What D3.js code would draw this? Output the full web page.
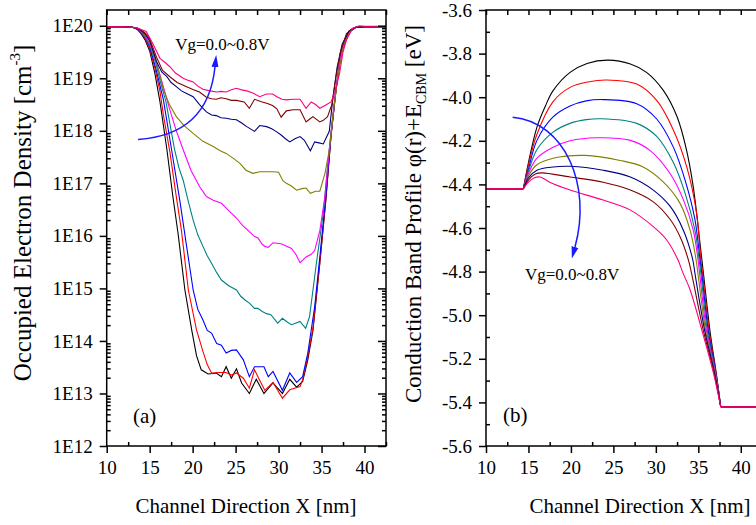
<!DOCTYPE html>
<html>
<head>
<meta charset="utf-8">
<script src="https://cdn.jsdelivr.net/npm/d3@7.9.0/dist/d3.min.js"></script>
<style>
  body { margin: 0; background: #fff; }
  svg { display: block; }
  .axis .domain { display: none; }
  .axis .tick line { stroke: #000; stroke-width: 1.5; }
</style>
</head>
<body>
<svg id="chart" width="756" height="525"></svg>
<script>
// Vg steps and their line colours (0.0V ... 0.8V)
const vgSteps = ['0.0', '0.1', '0.2', '0.3', '0.4', '0.5', '0.6', '0.7', '0.8'];
const lineColors = ['#000000', '#ff0000', '#0000ff', '#008080', '#ff00ff', '#808000', '#000080', '#800000', '#ff0080'];

// tick values
const xMajor = [10, 15, 20, 25, 30, 35, 40];
const xMinor = [12.5, 17.5, 22.5, 27.5, 32.5, 37.5, 42.5];
const densMajor = [1e12, 1e13, 1e14, 1e15, 1e16, 1e17, 1e18, 1e19, 1e20];
const bandMajor = [-5.6, -5.4, -5.2, -5.0, -4.8, -4.6, -4.4, -4.2, -4.0, -3.8, -3.6];
const bandMinor = [-5.5, -5.3, -5.1, -4.9, -4.7, -4.5, -4.3, -4.1, -3.9, -3.7];

// (a) electron density, [x nm, log10(n cm^-3)]
const dens00 = [[10,19.98],[12,19.98],[13,19.97],[13.5,19.94],[14,19.85],[14.5,19.72],[15,19.52],[15.6,19.1],[16.2,18.55],[17,17.65],[17.7,16.75],[18.3,16.05],[19.1,14.97],[19.9,14.2],[20.45,13.72],[21,13.45],[21.8,13.37],[22.4,13.38],[22.75,13.39],[23.35,13.32],[23.9,13.51],[24.5,13.29],[25.1,13.47],[25.7,13.2],[26.6,13.0],[27.4,13.27],[28.3,13.0],[29.35,13.2],[30.45,13.0],[31.3,13.27],[32.1,13.12],[32.8,13.23],[33.4,13.64],[34.0,14.2],[34.8,15.48],[35.5,16.68],[36.1,17.9],[36.7,18.8],[37.3,19.5],[38.2,19.88],[39,19.97],[40,19.98],[42.5,19.98]];
const dens01 = [[10,19.98],[12,19.98],[13,19.97],[13.5,19.94],[14,19.87],[14.5,19.75],[15,19.56],[15.6,19.2],[16.2,18.75],[16.6,18.3],[17.35,17.6],[18.05,16.8],[18.7,16.1],[19.5,14.97],[20.45,14.21],[21.2,13.8],[21.7,13.55],[22.2,13.39],[23.1,13.4],[23.9,13.4],[24.5,13.35],[25.1,13.39],[25.9,13.29],[26.6,13.1],[27.2,13.45],[27.8,13.25],[28.4,13.06],[29.35,13.21],[30.45,12.91],[31.3,13.07],[32.5,13.13],[32.8,13.26],[33.4,13.7],[34.0,14.25],[34.8,15.5],[35.5,16.7],[36.1,17.9],[36.7,18.8],[37.3,19.5],[38.2,19.88],[39,19.97],[40,19.98],[42.5,19.98]];
const dens02 = [[10,19.98],[12,19.98],[13,19.97],[13.5,19.94],[14,19.88],[14.5,19.77],[15,19.6],[15.7,19.2],[16.6,18.59],[17.55,17.64],[18.5,16.68],[19.3,15.8],[20.06,14.97],[20.6,14.6],[21.2,14.4],[21.7,14.2],[22.2,14.15],[22.8,13.95],[23.35,13.92],[23.9,13.77],[24.5,13.82],[25.1,13.83],[25.9,13.64],[26.6,13.32],[27.2,13.51],[28.3,13.51],[28.8,13.32],[29.35,13.42],[30.45,13.06],[31.3,13.39],[32.1,13.21],[32.8,13.32],[33.4,13.77],[34.2,14.65],[34.8,15.6],[35.5,16.75],[36.1,17.92],[36.7,18.82],[37.3,19.5],[38.2,19.88],[39,19.97],[40,19.98],[42.5,19.98]];
const dens03 = [[10,19.98],[12,19.98],[13,19.97],[13.5,19.95],[14,19.89],[14.5,19.78],[15,19.63],[15.7,19.3],[16.3,18.9],[16.9,18.55],[17.5,18.0],[17.9,17.64],[18.4,17.3],[18.9,17.06],[19.5,16.65],[20.06,16.3],[20.6,16.02],[21.2,15.8],[21.7,15.62],[22.2,15.48],[22.8,15.3],[23.35,15.16],[24.2,15.05],[25.1,14.97],[25.6,14.85],[26.1,14.78],[26.6,14.72],[27.2,14.62],[27.6,14.62],[28.1,14.56],[28.6,14.52],[29.1,14.5],[29.9,14.34],[30.45,14.43],[31.0,14.36],[31.5,14.31],[32.5,14.37],[33.15,14.24],[33.6,14.46],[34.4,15.48],[35.2,16.43],[35.8,17.5],[36.4,18.4],[37,19.2],[37.6,19.7],[38.4,19.92],[39,19.97],[40,19.98],[42.5,19.98]];
const dens04 = [[10,19.98],[12,19.98],[13,19.97],[13.5,19.95],[14,19.89],[14.5,19.8],[15,19.66],[15.7,19.35],[16.4,18.95],[17.35,18.4],[18.1,18.0],[18.9,17.64],[19.8,17.25],[20.8,16.94],[21.6,16.75],[22.4,16.68],[23.35,16.62],[24.2,16.48],[25.1,16.34],[25.8,16.2],[26.6,16.08],[27.1,16.0],[27.6,15.96],[28.1,15.84],[28.4,15.8],[28.8,15.78],[29.35,15.87],[30.3,15.85],[31.5,15.76],[32.0,15.65],[32.5,15.49],[33.2,15.6],[33.8,15.65],[34.2,15.72],[34.8,16.1],[35.4,16.75],[36.0,17.8],[36.6,18.7],[37.2,19.4],[37.8,19.78],[38.5,19.93],[39,19.97],[40,19.98],[42.5,19.98]];
const dens05 = [[10,19.98],[12,19.98],[13,19.97],[13.5,19.95],[14,19.9],[14.5,19.82],[15,19.7],[15.8,19.3],[16.6,18.78],[17.3,18.5],[18.1,18.27],[19,18.1],[20.06,17.95],[21.2,17.8],[22.4,17.7],[23.2,17.62],[23.9,17.57],[24.7,17.48],[25.5,17.38],[26.2,17.25],[27.0,17.19],[27.8,17.22],[28.6,17.22],[29.4,17.22],[30.0,17.21],[30.5,17.05],[30.9,17.0],[31.5,16.95],[32.1,16.87],[32.7,16.9],[33.2,16.91],[33.7,16.81],[34.3,16.85],[34.8,16.85],[35.4,17.19],[35.9,17.63],[36.4,18.4],[37,19.15],[37.6,19.65],[38.3,19.9],[39,19.97],[40,19.98],[42.5,19.98]];
const dens06 = [[10,19.98],[12,19.98],[13,19.97],[13.5,19.95],[14,19.91],[14.5,19.84],[15,19.72],[15.8,19.32],[16.4,19.12],[17.0,19.03],[17.5,18.92],[18.1,18.84],[18.7,18.76],[19.3,18.71],[20.06,18.65],[20.8,18.5],[21.6,18.36],[22.2,18.3],[22.75,18.29],[23.3,18.25],[23.9,18.24],[24.5,18.22],[25.1,18.21],[25.7,18.15],[26.3,18.08],[27.2,17.99],[27.8,18.1],[28.6,18.08],[29.2,18.04],[29.7,17.99],[30.3,17.92],[30.8,17.85],[31.3,17.79],[31.9,17.85],[32.5,17.89],[33.0,17.82],[33.7,17.62],[34.2,17.79],[34.7,17.77],[35.2,17.75],[35.9,17.99],[36.3,18.59],[36.8,19.2],[37.4,19.65],[38.2,19.9],[39,19.97],[40,19.98],[42.5,19.98]];
const dens07 = [[10,19.98],[12,19.98],[13,19.97],[13.5,19.96],[14,19.92],[14.5,19.86],[15,19.75],[15.8,19.4],[16.5,19.15],[17.35,19.03],[18.2,18.92],[19.3,18.84],[20.1,18.78],[20.8,18.74],[21.6,18.64],[22.2,18.61],[22.75,18.6],[23.3,18.63],[23.9,18.61],[24.5,18.58],[25.1,18.58],[26.0,18.55],[26.6,18.43],[27.2,18.6],[28.1,18.55],[28.7,18.52],[29.3,18.48],[29.8,18.42],[30.3,18.26],[30.9,18.38],[31.7,18.4],[32.5,18.4],[33.2,18.17],[33.6,18.22],[34.0,18.27],[34.8,18.17],[35.2,18.2],[35.7,18.27],[36.2,18.5],[36.7,19.05],[37.2,19.5],[37.9,19.85],[38.6,19.95],[39,19.97],[40,19.98],[42.5,19.98]];
const dens08 = [[10,19.98],[12,19.98],[13,19.97],[13.5,19.96],[14,19.93],[14.6,19.89],[15.3,19.68],[16.2,19.38],[16.8,19.3],[17.35,19.22],[18.0,19.1],[18.9,19.0],[19.5,18.96],[20.06,18.93],[20.6,18.85],[21.2,18.79],[22,18.76],[22.8,18.74],[23.3,18.75],[23.9,18.74],[24.5,18.78],[25.1,18.81],[25.7,18.78],[26.3,18.76],[27.0,18.72],[27.8,18.65],[28.6,18.7],[29.3,18.7],[29.8,18.65],[30.4,18.6],[30.9,18.59],[31.7,18.6],[32.5,18.6],[33.2,18.43],[33.8,18.55],[34.3,18.5],[34.8,18.43],[35.5,18.49],[36.1,18.55],[36.6,18.75],[37.1,19.1],[37.5,19.5],[37.9,19.73],[38.6,19.95],[39.4,20.0],[40,19.99],[42.5,19.99]];

// (b) conduction band, [x nm, energy eV]; flat source/drain levels on each side
const bandSource = [[10, -4.42], [14.4, -4.42]];
const bandDrain = [[37.64, -5.42], [42.5, -5.42]];
const band00 = [[14.4,-4.42],[15,-4.30],[16,-4.137],[17,-4.04],[17.9,-3.97],[19.9,-3.886],[21.9,-3.845],[24.4,-3.83],[27,-3.848],[28.9,-3.886],[30.9,-3.97],[32.5,-4.09],[33.6,-4.24],[34.4,-4.41],[35.2,-4.67],[35.6,-4.807],[36.4,-5.08],[37.1,-5.263],[37.64,-5.42]];
const band01 = [[14.4,-4.42],[15,-4.31],[16,-4.17],[17.9,-4.02],[19.9,-3.955],[22,-3.93],[24.2,-3.921],[27.75,-3.94],[30.1,-4.015],[32.06,-4.15],[33.64,-4.32],[34.8,-4.533],[35.3,-4.746],[35.5,-4.807],[36.3,-5.08],[37.08,-5.263],[37.64,-5.42]];
const band02 = [[14.4,-4.42],[15,-4.33],[16,-4.198],[17.9,-4.09],[19.9,-4.04],[21.8,-4.017],[23.8,-4.011],[27.75,-4.03],[30.1,-4.10],[32.06,-4.229],[33.44,-4.38],[34.6,-4.56],[35.2,-4.746],[35.4,-4.807],[36.2,-5.08],[37.05,-5.263],[37.64,-5.42]];
const band03 = [[14.4,-4.42],[15,-4.34],[16,-4.24],[17.9,-4.16],[19.9,-4.12],[21.8,-4.103],[23.6,-4.099],[27.75,-4.12],[30.1,-4.18],[32.06,-4.30],[33.44,-4.44],[34.6,-4.61],[35.1,-4.746],[35.3,-4.807],[36.1,-5.08],[37.02,-5.263],[37.64,-5.42]];
const band04 = [[14.4,-4.42],[15,-4.35],[16,-4.28],[17.9,-4.23],[19.9,-4.20],[23.0,-4.186],[27,-4.198],[29.3,-4.244],[31.67,-4.35],[33.24,-4.47],[34.4,-4.61],[34.97,-4.746],[35.15,-4.807],[36.0,-5.08],[36.98,-5.263],[37.64,-5.42]];
const band05 = [[14.4,-4.42],[15,-4.36],[16,-4.31],[17.9,-4.28],[21.66,-4.267],[25.8,-4.29],[28.5,-4.32],[30.9,-4.39],[32.85,-4.487],[34.03,-4.61],[34.74,-4.746],[34.95,-4.807],[35.9,-5.08],[36.94,-5.263],[37.64,-5.42]];
const band06 = [[14.4,-4.42],[15,-4.37],[16,-4.335],[17.9,-4.32],[19.9,-4.317],[23.8,-4.335],[27,-4.366],[29.7,-4.426],[31.67,-4.50],[33.24,-4.61],[34.35,-4.746],[34.6,-4.807],[35.8,-5.08],[36.9,-5.263],[37.64,-5.42]];
const band07 = [[14.4,-4.42],[15,-4.38],[15.8,-4.352],[16.56,-4.347],[19.9,-4.366],[23.8,-4.39],[27,-4.426],[29.7,-4.48],[31.67,-4.56],[32.85,-4.64],[33.83,-4.746],[34.2,-4.807],[35.65,-5.08],[36.85,-5.263],[37.64,-5.42]];
const band08 = [[14.4,-4.42],[15,-4.39],[15.7,-4.37],[16.36,-4.366],[17.5,-4.39],[19.9,-4.426],[23.8,-4.472],[27,-4.518],[29.7,-4.594],[31.28,-4.655],[32.6,-4.746],[33.2,-4.807],[34,-4.88],[35.5,-5.08],[36.77,-5.263],[37.64,-5.42]];

const densSeries = [dens00, dens01, dens02, dens03, dens04, dens05, dens06, dens07, dens08];
const bandSeries = [band00, band01, band02, band03, band04, band05, band06, band07, band08];

const svg = d3.select('#chart');
const FONT = 'Liberation Serif';

// scales
const xL = d3.scaleLinear().domain([10, 42.5]).range([106.7, 386]);
const yL = d3.scaleLog().domain([1e12, Math.pow(10, 20.3)]).range([446, 10]);
const xR = d3.scaleLinear().domain([10, 42.5]).range([486, 762]);
const yR = d3.scaleLinear().domain([-5.6, -3.6]).range([446, 10]);

const defs = svg.append('defs');
[['clipA', xL, yL], ['clipB', xR, yR]].forEach(([id, x, y]) => {
  defs.append('clipPath').attr('id', id).append('rect')
    .attr('x', x.range()[0]).attr('y', y.range()[1])
    .attr('width', x.range()[1] - x.range()[0]).attr('height', y.range()[0] - y.range()[1]);
});
defs.append('marker')
  .attr('id', 'arrow').attr('viewBox', '0 -4 12 8')
  .attr('refX', 0).attr('refY', 0)
  .attr('markerWidth', 12).attr('markerHeight', 8)
  .attr('markerUnits', 'userSpaceOnUse').attr('orient', 'auto')
  .append('path').attr('d', 'M0,-3.5L12,0L0,3.5Z').attr('fill', '#1a1aff');

// ---- panel (a) lines
const lineA = d3.line().x(d => xL(d[0])).y(d => yL(Math.pow(10, d[1])));
const gA = svg.append('g').attr('clip-path', 'url(#clipA)');
densSeries.forEach((s, i) => {
  gA.append('path').attr('d', lineA(s)).attr('fill', 'none')
    .attr('stroke', lineColors[i]).attr('stroke-width', 1.1);
});

// ---- panel (b) lines
const lineB = d3.line().x(d => xR(d[0])).y(d => yR(d[1]));
const curveB = d3.line().x(d => xR(d[0])).y(d => yR(d[1])).curve(d3.curveCatmullRom.alpha(0.5));
const gB = svg.append('g').attr('clip-path', 'url(#clipB)');
bandSeries.forEach((s, i) => {
  gB.append('path').attr('d', lineB(bandSource) + curveB(s) + lineB(bandDrain))
    .attr('fill', 'none').attr('stroke', lineColors[i]).attr('stroke-width', 1.1);
});

// ---- axes
function axisGroup(tr) {
  return svg.append('g').attr('class', 'axis').attr('transform', tr);
}
function styleLabels(g) {
  g.attr('font-family', FONT).attr('font-size', 19);
  g.selectAll('text').attr('font-family', FONT).attr('font-size', 19).attr('fill', '#000');
}
function frame(x, y) {
  const [x0, x1] = x.range(), [y1, y0] = y.range();
  // bottom: majors out, minors in; top: all in
  axisGroup(`translate(0,${y1})`).call(d3.axisBottom(x).tickValues(xMajor).tickSize(7).tickPadding(8).tickFormat(d3.format('d'))).call(styleLabels);
  axisGroup(`translate(0,${y1})`).call(d3.axisBottom(x).tickValues(xMinor).tickSize(-4).tickFormat(''));
  axisGroup(`translate(0,${y0})`).call(d3.axisTop(x).tickValues(xMajor.concat(xMinor)).tickSize(-5).tickFormat(''));
  svg.append('rect').attr('x', x0).attr('y', y0).attr('width', x1 - x0).attr('height', y1 - y0)
    .attr('fill', 'none').attr('stroke', '#000').attr('stroke-width', 1.5);
}
frame(xL, yL);
frame(xR, yR);

const densMinor = yL.ticks().filter(v => !densMajor.includes(v));
axisGroup('translate(106.7,0)').call(d3.axisLeft(yL).tickValues(densMajor).tickSize(7).tickPadding(7)
  .tickFormat(d => '1E' + Math.round(Math.log10(d)))).call(styleLabels);
axisGroup('translate(106.7,0)').call(d3.axisLeft(yL).tickValues(densMinor).tickSize(-4).tickFormat(''));
axisGroup('translate(386,0)').call(d3.axisRight(yL).tickValues(densMajor).tickSize(-8).tickFormat(''));
axisGroup('translate(386,0)').call(d3.axisRight(yL).tickValues(densMinor).tickSize(-4).tickFormat(''));

axisGroup('translate(486,0)').call(d3.axisLeft(yR).tickValues(bandMajor).tickSize(7).tickPadding(7)
  .tickFormat(d => d.toFixed(1))).call(styleLabels);
axisGroup('translate(486,0)').call(d3.axisLeft(yR).tickValues(bandMinor).tickSize(-4).tickFormat(''));

// ---- titles
function txt(x, y, size) {
  return svg.append('text').attr('x', x).attr('y', y).attr('font-family', FONT)
    .attr('font-size', size).attr('fill', '#000');
}
txt(246, 513, 21).attr('text-anchor', 'middle').text('Channel Direction X [nm]');
txt(640, 513, 21).attr('text-anchor', 'middle').text('Channel Direction X [nm]');

const tA = txt(0, 0, 25).attr('text-anchor', 'middle').attr('transform', 'translate(31,213) rotate(-90)');
tA.append('tspan').text('Occupied Electron Density [cm');
tA.append('tspan').attr('font-size', 15).attr('dy', -11).text('-3');
tA.append('tspan').attr('dy', 11).text(']');

const tB = txt(0, 0, 23).attr('text-anchor', 'middle').attr('transform', 'translate(421,214) rotate(-90)');
tB.append('tspan').text('Conduction Band Profile \u03c6(r)+E');
tB.append('tspan').attr('font-size', 14).attr('dy', 5).text('CBM');
tB.append('tspan').attr('dy', -5).text(' [eV]');

// ---- annotations (data coordinates)
const arrowA = [[13.65, 17.837], [21.79, 17.92], [22.6, 19.214]];
const pa = arrowA.map(d => [xL(d[0]), yL(Math.pow(10, d[1]))]);
svg.append('path').attr('d', `M${pa[0]}Q${pa[1]} ${pa[2]}`).attr('fill', 'none')
  .attr('stroke', '#1a1aff').attr('stroke-width', 1.5).attr('marker-end', 'url(#arrow)');

const arrowB = [[13.14, -4.092], [19.3, -4.114], [22.49, -4.403], [20.48, -4.687]];
const pb = arrowB.map(d => [xR(d[0]), yR(d[1])]);
svg.append('path').attr('d', `M${pb[0]}C${pb[1]} ${pb[2]} ${pb[3]}`).attr('fill', 'none')
  .attr('stroke', '#1a1aff').attr('stroke-width', 1.5).attr('marker-end', 'url(#arrow)');

txt(xL(17.97), yL(Math.pow(10, 19.54)), 17).text('Vg=0.0~0.8V');
txt(xR(14.59), yR(-4.839), 17).text('Vg=0.0~0.8V');
txt(xL(13.06), yL(Math.pow(10, 12.44)), 21).text('(a)');
txt(xR(12.0), yR(-5.49), 21).text('(b)');
</script>
</body>
</html>
